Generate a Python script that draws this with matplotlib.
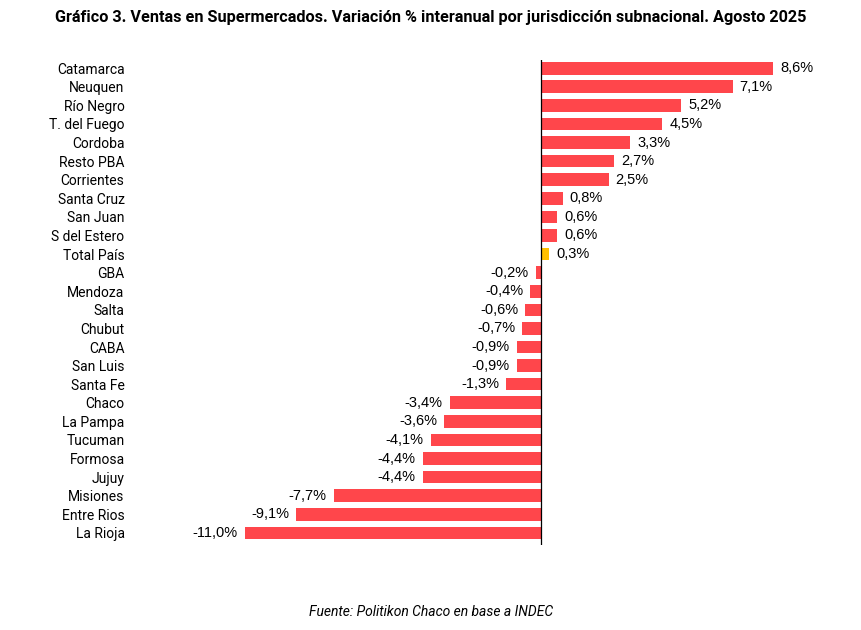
import matplotlib.pyplot as plt

# Datos: variación % interanual, agosto 2025
jurisdicciones = ["Catamarca", "Neuquen", "Río Negro", "T. del Fuego", "Cordoba",
                  "Resto PBA", "Corrientes", "Santa Cruz", "San Juan", "S del Estero",
                  "Total País", "GBA", "Mendoza", "Salta", "Chubut", "CABA",
                  "San Luis", "Santa Fe", "Chaco", "La Pampa", "Tucuman", "Formosa",
                  "Jujuy", "Misiones", "Entre Rios", "La Rioja"]
variacion = [8.6, 7.1, 5.2, 4.5, 3.3, 2.7, 2.5, 0.8, 0.6, 0.6,
             0.3, -0.2, -0.4, -0.6, -0.7, -0.9, -0.9, -1.3, -3.4, -3.6,
             -4.1, -4.4, -4.4, -7.7, -9.1, -11.0]
destacado = "Total País"

plt.rcParams['font.family'] = ['Roboto', 'DejaVu Sans']

fig = plt.figure(figsize=(8.62, 6.3), dpi=100)
ax = fig.add_axes([0.151, 0.135, 0.777, 0.77])

colores = ['#FFC000' if j == destacado else '#FF464B' for j in jurisdicciones]
pos = list(range(len(jurisdicciones)))
ax.barh(pos, variacion, height=0.68, color=colores)

ax.set_xlim(-15.25, 9.6)
ax.set_ylim(len(pos) - 0.35, -0.45)
ax.set_yticks(pos)
ax.set_yticklabels(jurisdicciones, fontsize=10)
ax.tick_params(axis='y', length=0, pad=4)
ax.set_xticks([])
for s in ['top', 'right', 'bottom', 'left']:
    ax.spines[s].set_visible(False)
ax.axvline(0, color='black', lw=0.9)

for p, v in zip(pos, variacion):
    txt = f"{v:.1f}%".replace('.', ',')
    if v >= 0:
        ax.annotate(txt, (v, p), xytext=(5, 0), textcoords='offset points',
                    ha='left', va='center', fontsize=10.5, family=['Liberation Sans', 'DejaVu Sans'])
    else:
        ax.annotate(txt, (v, p), xytext=(-5, 0), textcoords='offset points',
                    ha='right', va='center', fontsize=10.5, family=['Liberation Sans', 'DejaVu Sans'])

fig.text(0.5, 0.972, "Gráfico 3. Ventas en Supermercados. Variación % interanual por jurisdicción subnacional. Agosto 2025",
         ha='center', va='center', fontsize=11.7, fontweight='bold')
fig.text(0.5, 0.028, "Fuente: Politikon Chaco en base a INDEC", ha='center', va='center',
         fontsize=10, style='italic')

plt.savefig('out.png', dpi=100)
